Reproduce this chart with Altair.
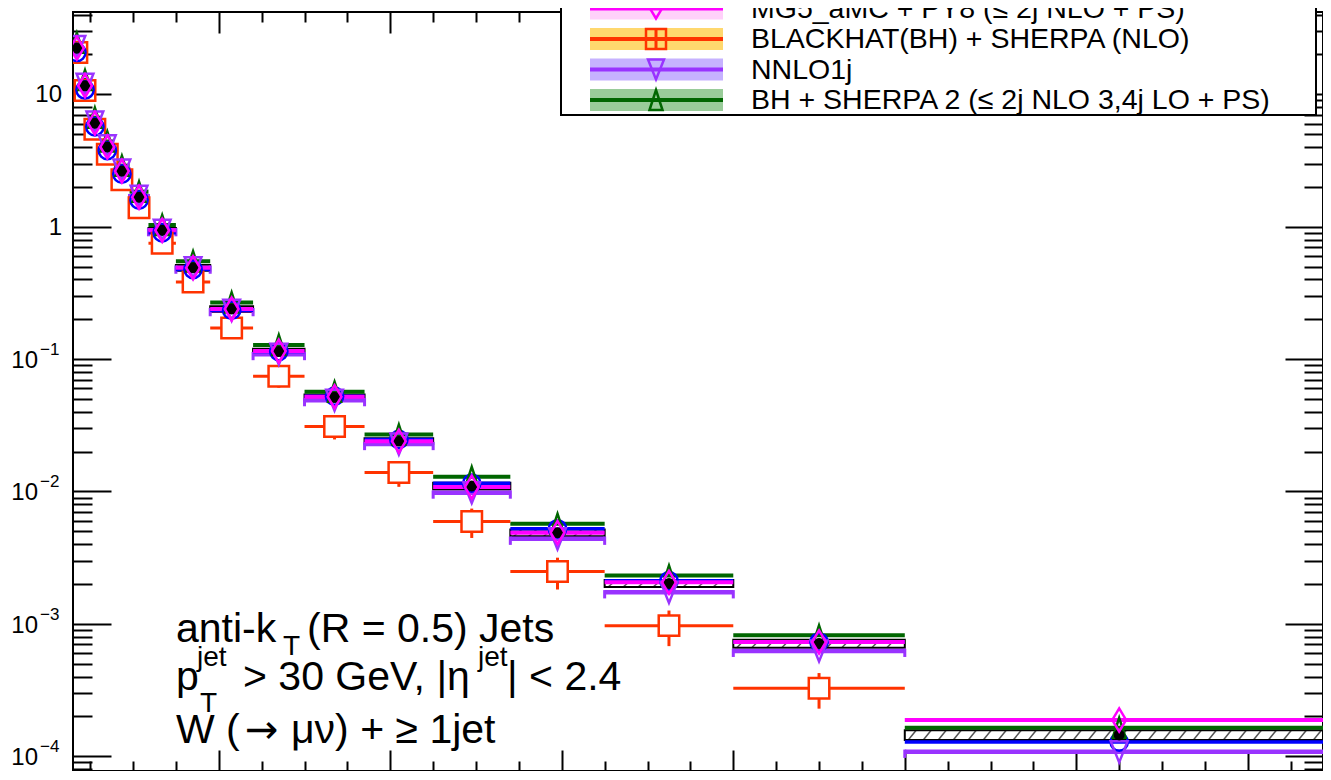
import altair as alt
import pandas as pd

# ---------------- values ----------------
edges = [30, 39, 49, 62, 78, 96, 118, 150, 190, 240, 300, 370, 450, 540, 650, 800, 1000, 1500]

data_vals = [22.3, 11.6, 6.05, 4.0, 2.63, 1.67, 0.94, 0.49, 0.239, 0.114, 0.0515,
             0.0240, 0.0110, 0.00488, 0.00202, 7.1e-4, 1.45e-4]
data_err = [0.04, 0.04, 0.04, 0.04, 0.04, 0.04, 0.04, 0.05, 0.05, 0.05, 0.05,
            0.05, 0.06, 0.06, 0.06, 0.07, 0.085]

mg5py8_vals = [22.3, 11.6, 6.05, 4.0, 2.63, 1.67, 0.94, 0.49, 0.239, 0.115, 0.052,
               0.0240, 0.0108, 0.00488, 0.00206, 7.3e-4, 1.88e-4]
bh_nlo_vals = [20.7, 10.7, 5.45, 3.52, 2.26, 1.39, 0.75, 0.382, 0.172, 0.0741, 0.0309,
               0.0139, 0.00594, 0.00249, 9.7e-4, 3.27e-4, 5.5e-5]
bh_nlo_err = [0.03, 0.03, 0.04, 0.05, 0.06, 0.07, 0.08, 0.10, 0.13, 0.18, 0.20,
              0.22, 0.25, 0.27, 0.30, 0.30, 0.20]
nnlo_vals = [23.0, 11.9, 6.17, 4.08, 2.68, 1.70, 0.94, 0.49, 0.234, 0.109, 0.0489,
             0.0228, 0.0098, 0.00439, 0.00173, 6.25e-4, 1.08e-4]
bh2_vals = [24.5, 12.8, 6.66, 4.40, 2.89, 1.84, 1.03, 0.549, 0.268, 0.128, 0.0567,
            0.0269, 0.0129, 0.00571, 0.00232, 8.2e-4, 1.64e-4]
mg5py6_vals = [20.7, 10.8, 5.69, 3.76, 2.50, 1.59, 0.90, 0.475, 0.234, 0.114, 0.0525,
               0.0247, 0.01155, 0.00522, 0.00212, 7.3e-4, 1.28e-4]

legend_names = ["MG5_aMC + PY8 (\u2264 2j NLO + PS)",
                "BLACKHAT(BH) + SHERPA (NLO)",
                "NNLO1j",
                "BH + SHERPA 2 (\u2264 2j NLO 3,4j LO + PS)"]

y_plain_ticks = [10, 1]
y_plain_text = ["10", "1"]
y_exp_ticks = [0.1, 0.01, 0.001, 0.0001]
y_exp_text = ["\u22121", "\u22122", "\u22123", "\u22124"]

x_major = [200, 400, 600, 800, 1000, 1200, 1400]
x_minor = [50, 100, 150, 250, 300, 350, 450, 500, 550, 650, 700, 750, 850, 900, 950,
           1050, 1100, 1150, 1250, 1300, 1350, 1450]
Y_MIN, Y_MAX = 7.74e-5, 41.84
X_MIN, X_MAX = 30, 1487.7
y_major = [1e-4, 1e-3, 1e-2, 1e-1, 1, 10]
y_minor = [m * 10.0 ** e for e in range(-5, 2) for m in range(2, 10)
           if Y_MIN < m * 10.0 ** e < Y_MAX]

# ---------------- styles ----------------
F = "Liberation Sans"
W, H = 1250, 759
MAG, ORA, PUR, GRN, BLU = "#ff00ff", "#ff3300", "#9933ff", "#006600", "#0000ff"
DIAMOND = "M0,-1L0.6,0L0,1L-0.6,0Z"
TRI_UP = "M0,-1L0.65,1L-0.65,1Z"
TRI_DN = "M-0.8,-1L0.8,-1L0,1Z"

xs = alt.Scale(domain=[X_MIN, X_MAX], nice=False, zero=False)
ys = alt.Scale(type="log", domain=[Y_MIN, Y_MAX], nice=False)

df = pd.DataFrame(dict(lo=edges[:-1], hi=edges[1:], data=data_vals, derr=data_err,
                       mg8=mg5py8_vals, bh=bh_nlo_vals, bherr=bh_nlo_err,
                       nnlo=nnlo_vals, bh2=bh2_vals, mg6=mg5py6_vals))
df["c"] = (df.lo + df.hi) / 2
df["d_lo"] = df.data * (1 - df.derr)
df["d_hi"] = df.data * (1 + df.derr)
df["bh_lo"] = df.bh * (1 - df.bherr)
df["bh_hi"] = df.bh * (1 + df.bherr)
df["nn_cap_hi"] = df.nnlo * 1.04
df["nn_cap_lo"] = df.nnlo * 0.90

# hatching of the data uncertainty band (derived from the bins)
hatch = []
for lo_, hi_, dl, dh in zip(df.lo, df.hi, df.d_lo, df.d_hi):
    x = lo_ + 4.0
    while x + 9.3 <= hi_ - 2:
        hatch.append(dict(x=x, x2=x + 9.3, y=dl, y2=dh))
        x += 17.5
hatch_df = pd.DataFrame(hatch)


def X(f):
    return alt.X(f"{f}:Q", scale=xs, axis=None)


def Y(f):
    return alt.Y(f"{f}:Q", scale=ys, axis=None)


base = alt.Chart(df)
layers = []

# data band
layers.append(alt.Chart(hatch_df).mark_rule(color="#555555", strokeWidth=1.5, clip=True)
              .encode(x=X("x"), x2="x2", y=Y("y"), y2="y2"))
layers.append(base.mark_rect(fillOpacity=0, stroke="black", strokeWidth=2, clip=True)
              .encode(x=X("lo"), x2="hi", y=Y("d_lo"), y2="d_hi"))
# theory lines
layers.append(base.mark_rule(color=PUR, strokeWidth=4.5, clip=True)
              .encode(x=X("lo"), x2="hi", y=Y("nnlo")))
layers.append(base.mark_rule(color=PUR, strokeWidth=3, clip=True)
              .encode(x=X("lo"), y=Y("nn_cap_hi"), y2="nn_cap_lo"))
layers.append(base.mark_rule(color=PUR, strokeWidth=3, clip=True)
              .encode(x=X("hi"), y=Y("nn_cap_hi"), y2="nn_cap_lo"))
layers.append(base.mark_rule(color=BLU, strokeWidth=3.5, clip=True)
              .encode(x=X("lo"), x2="hi", y=Y("mg6")))
layers.append(base.mark_rule(color=MAG, strokeWidth=4, clip=True)
              .encode(x=X("lo"), x2="hi", y=Y("mg8")))
layers.append(base.mark_rule(color=GRN, strokeWidth=4, clip=True)
              .encode(x=X("lo"), x2="hi", y=Y("bh2")))
layers.append(base.mark_rule(color=ORA, strokeWidth=3, clip=True)
              .encode(x=X("lo"), x2="hi", y=Y("bh")))
layers.append(base.mark_rule(color=ORA, strokeWidth=3, clip=True)
              .encode(x=X("c"), y=Y("bh_lo"), y2="bh_hi"))
# markers
layers.append(base.mark_point(shape="square", filled=True, fill="white", stroke=ORA,
                              strokeWidth=2.5, size=420, opacity=1, clip=True)
              .encode(x=X("c"), y=Y("bh")))
layers.append(base.mark_point(shape="circle", filled=False, color=BLU, strokeWidth=2.5,
                              size=300, opacity=1, clip=True)
              .encode(x=X("c"), y=Y("mg6")))
layers.append(base.mark_point(shape=TRI_UP, filled=False, color=GRN, strokeWidth=2.5,
                              size=400, opacity=1, clip=True)
              .encode(x=X("c"), y=Y("bh2")))
layers.append(base.mark_point(shape=TRI_DN, filled=False, color=PUR, strokeWidth=2.5,
                              size=441, opacity=1, clip=True)
              .encode(x=X("c"), y=Y("nnlo")))
layers.append(base.mark_point(shape="circle", filled=True, color="black", size=120,
                              opacity=1, clip=True)
              .encode(x=X("c"), y=Y("data")))
layers.append(base.mark_point(shape=DIAMOND, filled=False, color=MAG, strokeWidth=2.5,
                              size=529, opacity=1, clip=True)
              .encode(x=X("c"), y=Y("mg8")))


# inward ticks on all four sides
def xaxis(vals, size, orient):
    return base.mark_point(opacity=0).encode(
        x=alt.X("c:Q", scale=xs, axis=alt.Axis(orient=orient, offset=-H, values=vals,
                                                 tickSize=size, tickWidth=2, tickColor="black",
                                                 labels=False, domain=False, grid=False,
                                                 title=None)))


def yaxis(vals, size, orient):
    return base.mark_point(opacity=0).encode(
        y=alt.Y("data:Q", scale=ys, axis=alt.Axis(orient=orient, offset=-W, values=vals,
                                                    tickSize=size, tickWidth=2, tickColor="black",
                                                    labels=False, domain=False, grid=False,
                                                    title=None)))


layers += [xaxis(x_major, 21, "bottom"), xaxis(x_minor, 10, "bottom"),
           xaxis(x_major, 21, "top"), xaxis(x_minor, 10, "top"),
           yaxis(y_major, 38, "right"), yaxis(y_minor, 19, "right"),
           yaxis(y_major, 38, "left"), yaxis(y_minor, 19, "left")]

# y tick labels
lab_df = pd.DataFrame(dict(v=y_plain_ticks, t=y_plain_text))
exp_df = pd.DataFrame(dict(v=y_exp_ticks, t=y_exp_text))
layers.append(alt.Chart(lab_df).mark_text(align="right", baseline="middle", font=F,
                                          fontSize=24, dy=1, color="black")
              .encode(x=alt.value(-11), y=Y("v"), text="t:N"))
layers.append(alt.Chart(exp_df).mark_text(align="right", baseline="middle", font=F,
                                          fontSize=24, dy=2, text="10", color="black")
              .encode(x=alt.value(-35), y=Y("v")))
layers.append(alt.Chart(exp_df).mark_text(align="left", baseline="middle", font=F,
                                          fontSize=17, dy=-9, color="black")
              .encode(x=alt.value(-33), y=Y("v"), text="t:N"))

# legend
leg_df = pd.DataFrame(dict(name=legend_names,
                           line=[MAG, ORA, PUR, GRN],
                           band=["#ffd1fa", "#ffd86e", "#c6b2ff", "#99cc99"],
                           shape=[DIAMOND, "square", TRI_DN, TRI_UP],
                           row=[0, 1, 2, 3]))
leg_df["py"] = -3.5 + 30.5 * leg_df.row
leg_df["b0"] = leg_df.py - 11
leg_df["b1"] = leg_df.py + 11
one = pd.DataFrame(dict(a=[0]))
layers.append(alt.Chart(one).mark_rect(fill="white", stroke="black", strokeWidth=2)
              .encode(x=alt.value(488), x2=alt.value(1243), y=alt.value(-60), y2=alt.value(103)))
LG = alt.Chart(leg_df)
layers.append(LG.mark_rect().encode(x=alt.value(517), x2=alt.value(650),
                                    y=alt.Y("b0:Q", scale=None, axis=None), y2="b1:Q",
                                    fill=alt.Fill("band:N", scale=None, legend=None)))
layers.append(LG.mark_rule(strokeWidth=4).encode(x=alt.value(517), x2=alt.value(650),
                                                 y=alt.Y("py:Q", scale=None, axis=None),
                                                 color=alt.Color("line:N", scale=None, legend=None)))
layers.append(alt.Chart(leg_df.iloc[[1]]).mark_rule(strokeWidth=3, color=ORA)
              .encode(x=alt.value(583), y=alt.Y("b0:Q", scale=None, axis=None), y2="b1:Q"))
layers.append(LG.mark_point(filled=False, strokeWidth=2.5, size=400, opacity=1)
              .encode(x=alt.value(583), y=alt.Y("py:Q", scale=None, axis=None),
                      shape=alt.Shape("shape:N", scale=None, legend=None),
                      color=alt.Color("line:N", scale=None, legend=None)))
layers.append(LG.mark_text(align="left", baseline="middle", font=F, fontSize=28.5, color="black")
              .encode(x=alt.value(678), y=alt.Y("py:Q", scale=None, axis=None), text="name:N"))


# annotation text
def txt(s, x, y, size, font=F):
    return alt.Chart(one).mark_text(text=s, align="left", baseline="alphabetic", font=font,
                                    fontSize=size, color="black").encode(
        x=alt.value(x), y=alt.value(y))


layers += [
    txt("anti-k", 103, 630, 41), txt("T", 210, 643, 28), txt("(R = 0.5) Jets", 234, 630, 41),
    txt("p", 103, 678, 41), txt("jet", 124, 654, 28), txt("T", 127, 700, 28),
    txt("> 30 GeV, |\u03b7", 170, 678, 41), txt("jet", 405, 654, 28), txt("| < 2.4", 434, 678, 41),
    txt("W (", 103, 731, 41), txt("\u2192", 172, 731, 40, "DejaVu Sans"),
    txt("\u03bc\u03bd) + \u2265 1jet", 218, 731, 41),
]

chart = (alt.layer(*layers)
         .resolve_scale(x="independent", y="independent")
         .properties(width=W, height=H, background="white",
                     padding={"left": 65, "top": 4, "right": 0, "bottom": 0},
                     autosize=alt.AutoSizeParams(type="none"))
         .configure_view(stroke="black", strokeWidth=2))

chart.save("out.html", embed_options={"renderer": "svg", "actions": False})
